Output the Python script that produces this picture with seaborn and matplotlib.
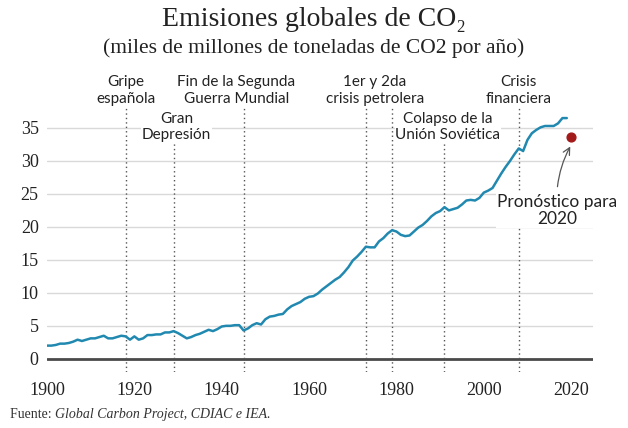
import pandas as pd
import seaborn as sns
import matplotlib.pyplot as plt

sns.set_style('white')
plt.rcParams['font.family'] = ['Lato', 'DejaVu Sans']

# emisiones anuales (Gt CO2)
years = list(range(1900, 2020))
emissions = [
    2.0, 2.0, 2.1, 2.3, 2.3, 2.4, 2.6, 2.9, 2.7, 2.9,
    3.1, 3.1, 3.3, 3.5, 3.1, 3.1, 3.3, 3.5, 3.4, 2.9,
    3.4, 2.9, 3.1, 3.6, 3.6, 3.7, 3.7, 4.0, 4.0, 4.2,
    3.9, 3.5, 3.1, 3.3, 3.6, 3.8, 4.1, 4.4, 4.2, 4.5,
    4.9, 5.0, 5.0, 5.1, 5.1, 4.3, 4.6, 5.1, 5.4, 5.2,
    6.0, 6.4, 6.5, 6.7, 6.8, 7.5, 8.0, 8.3, 8.6, 9.1,
    9.4, 9.5, 9.9, 10.5, 11.0, 11.5, 12.0, 12.4, 13.1, 13.9,
    14.9, 15.5, 16.2, 17.0, 16.9, 16.9, 17.8, 18.3, 19.0, 19.5,
    19.3, 18.8, 18.6, 18.7, 19.3, 19.9, 20.3, 20.9, 21.6, 22.1,
    22.4, 23.0, 22.5, 22.7, 22.9, 23.4, 24.0, 24.1, 24.0, 24.4,
    25.2, 25.5, 25.9, 27.0, 28.1, 29.1, 30.0, 31.0, 31.9, 31.5,
    33.2, 34.2, 34.7, 35.1, 35.3, 35.3, 35.3, 35.7, 36.5, 36.5,
]
forecast_year = 2020
forecast_value = 33.6

event_years = [1918, 1929, 1945, 1973, 1979, 1991, 2008]
event_tops = [38.2, 32.9, 38.2, 38.2, 38.2, 32.9, 38.2]
event_labels = ['Gripe\nespañola', 'Gran\nDepresión', 'Fin de la Segunda\nGuerra Mundial',
                '1er y 2da\ncrisis petrolera', 'Colapso de la\nUnión Soviética',
                'Crisis\nfinanciera']
label_x = [1918, 1929.7, 1943.3, 1975.1, 1991.8, 2008]
label_y = [38.4, 32.9, 38.4, 38.4, 32.9, 38.4]

df = pd.DataFrame({'año': years, 'emisiones': emissions})

fig = plt.figure(figsize=(6.28, 4.28), dpi=100)
ax = fig.add_axes([47/628, 56/428, 546/628, 277/428])

for y in range(5, 40, 5):
    ax.axhline(y, color='#d9d9d9', lw=1, zorder=0)
ax.axhline(0, color='#4a4a4a', lw=2, zorder=1)

for yr, top in zip(event_years, event_tops):
    ax.plot([yr, yr], [-2, top], color='#555555', lw=1, ls=(0, (1, 2.2)), zorder=1)

sns.lineplot(data=df, x='año', y='emisiones', color='#2189b0', lw=1.8, ax=ax, zorder=3)
ax.scatter([forecast_year], [forecast_value], s=40, color='#a31a1a', zorder=4)

for x, y, s in zip(label_x, label_y, event_labels):
    ax.text(x, y, s, ha='center', va='bottom', fontsize=11, color='#222222',
            linespacing=1.2, zorder=5,
            bbox=dict(facecolor='white', edgecolor='none', pad=0.5))

ax.annotate('Pronóstico para\n2020', xy=(2019.8, 32.2), xytext=(2016.8, 20.0),
            ha='center', va='bottom', fontsize=12.5, color='#222222', linespacing=1.1,
            bbox=dict(facecolor='white', edgecolor='none', pad=1),
            arrowprops=dict(arrowstyle='->', color='#555555', lw=0.9,
                            connectionstyle='arc3,rad=-0.15', shrinkA=4, shrinkB=0),
            zorder=5)

ax.set_xlim(1900, 2025)
ax.set_ylim(-2, 40)
ax.set_xticks(range(1900, 2021, 20))
ax.set_yticks(range(0, 36, 5))
ax.tick_params(length=0, labelsize=13, colors='#222222')
ax.tick_params(axis='y', pad=6)
ax.tick_params(axis='x', pad=7)
for lab in ax.get_xticklabels() + ax.get_yticklabels():
    lab.set_fontfamily('Liberation Serif')
ax.set_xlabel('')
ax.set_ylabel('')
sns.despine(ax=ax, left=True, bottom=True)

fig.text(0.5, 1 - 19/428, 'Emisiones globales de CO₂', ha='center', va='center',
         fontsize=20, family=['Liberation Serif', 'DejaVu Serif'], color='#222222')
fig.text(0.5, 1 - 48/428, '(miles de millones de toneladas de CO2 por año)', ha='center',
         va='center', fontsize=15.5, family='Liberation Serif', color='#222222')

t1 = fig.text(10/628, 1 - 418/428, 'Fuente: ', ha='left', va='baseline',
              fontsize=10, family='Liberation Serif', color='#333333')
fig.text(0, 0, 'Global Carbon Project, CDIAC e IEA.', ha='left', va='baseline',
         fontsize=10, family='Liberation Serif', style='italic', color='#333333',
         transform=fig.transFigure)
fig.canvas.draw()
bb = t1.get_window_extent().transformed(fig.transFigure.inverted())
fig.texts[-1].set_position((bb.x1, 1 - 418/428))

fig.savefig('out.png', dpi=100)
